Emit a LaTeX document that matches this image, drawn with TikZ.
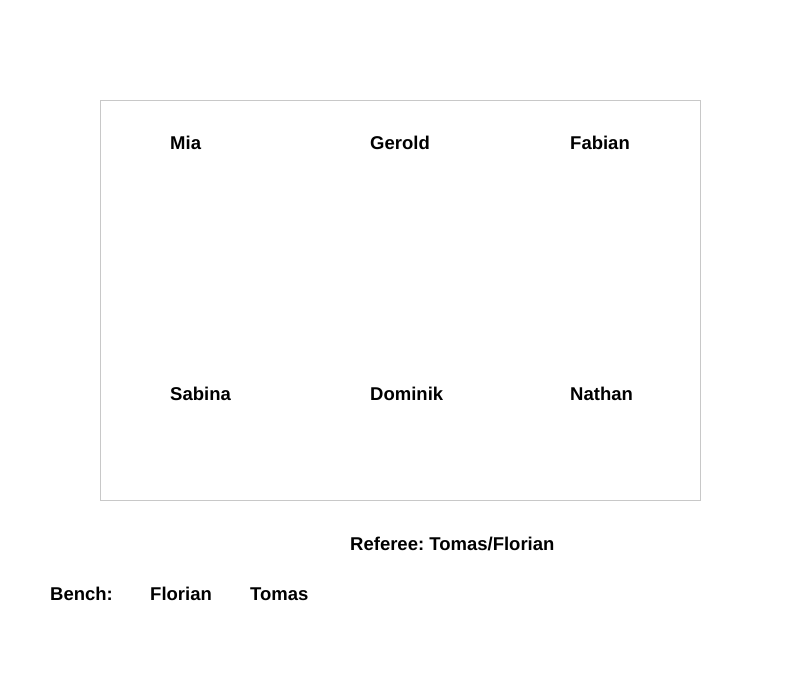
\documentclass[tikz,border=0pt]{standalone}
\usepackage{fontspec}
\setmainfont{Liberation Sans}
\usepackage{tikz}
\usetikzlibrary{positioning}
\definecolor{feldrand}{RGB}{200,200,200}
\tikzset{spieler/.style={anchor=base west,inner sep=0pt,font=\fontsize{18.5}{20}\selectfont\bfseries}}
\frenchspacing

\begin{document}
\begin{tikzpicture}[x=1pt,y=-1pt]
			\useasboundingbox (0,0) rectangle (800,700);
			\draw [feldrand,line width=1pt] (100.5,100.5) rectangle (700.5,500.5);
			\node[spieler] (mia) at (170,150) {Mia};
			\node[spieler] (gerold) at (370,150) {Gerold};
			\node[spieler] (fabian) at (570,150) {Fabian};
			\node[spieler] (sabina) at (170,400) {Sabina};
			\node[spieler] (dominik) at (370,400) {Dominik};
			\node[spieler] (nathan) at (570,400) {Nathan};
			\node[spieler] (referee) at (350,550) {Referee: Tomas/Florian};
			\node[spieler] (bench) at (50,600) {Bench:};
			\node[spieler] (florian) at (150,600) {Florian};
			\node[spieler] (tomas) at (250,600) {Tomas};
		\end{tikzpicture}
\end{document}
